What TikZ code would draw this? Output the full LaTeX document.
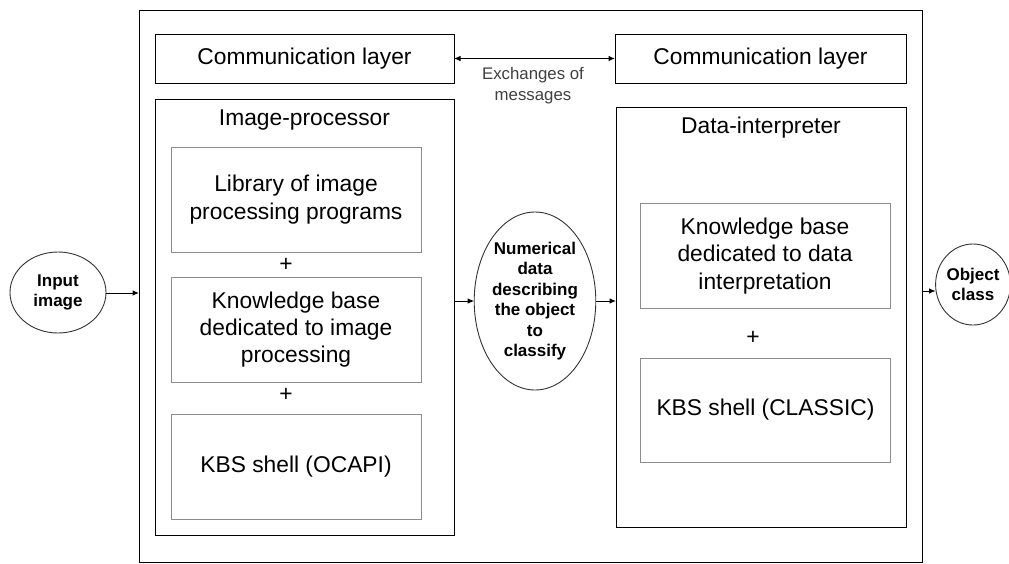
\documentclass[tikz,border=0pt]{standalone}
\usepackage{fontspec}
\setmainfont{Liberation Sans}
\usetikzlibrary{arrows.meta,shapes.geometric}
\begin{document}
\begin{tikzpicture}[x=1pt,y=-1pt,
  every node/.style={inner sep=0pt,outer sep=0pt},
  mainbox/.style={draw=black,line width=1pt,rectangle},
  innerbox/.style={draw=black!45,line width=1pt,rectangle,minimum width=250pt,minimum height=105pt,align=center,font=\fontsize{22.8}{27.3}\selectfont},
  bigtxt/.style={font=\fontsize{22.8}{26}\selectfont,align=center},
  elltxt/.style={draw=black!80,line width=0.9pt,ellipse,align=center,font=\fontsize{17}{20.5}\selectfont\bfseries},
  plus/.style={font=\fontsize{22.8}{26}\selectfont},
  arr/.style={line width=1pt,-{Latex[length=6.5pt,width=5.5pt]}},
  arrtwo/.style={line width=1pt,{Latex[length=6.5pt,width=5.5pt]}-{Latex[length=6.5pt,width=5.5pt]}}
]
\useasboundingbox (0,0) rectangle (1009,563);
% outer frame
\node[draw=black,line width=1pt,minimum width=783pt,minimum height=551.5pt] (outer) at (530.5,286.5) {};
% communication layers
\node[mainbox,minimum width=299pt,minimum height=49pt,bigtxt] (lc) at (304.5,58.5) {Communication layer};
\node[mainbox,minimum width=291pt,minimum height=49pt,bigtxt] (rc) at (760.5,58.5) {Communication layer};
\draw[arrtwo] (lc.east) -- (rc.west);
\node[font=\fontsize{16.8}{21}\selectfont,text=black!75,align=center] (ex) at (533,86) {Exchanges of\\messages};
% image processor
\node[mainbox,minimum width=299pt,minimum height=436pt] (ip) at (304.5,317) {};
\node[bigtxt] (iplab) at (304.5,120) {Image-processor};
\node[innerbox] (lib) at (296,199.5) {Library of image\\processing programs};
\node[plus] (p1) at (286,265) {+};
\node[innerbox] (kbi) at (296,329.5) {Knowledge base\\dedicated to image\\processing};
\node[plus] (p2) at (286,395) {+};
\node[innerbox] (ocapi) at (296,466.5) {KBS shell (OCAPI)};
% data interpreter
\node[mainbox,minimum width=290pt,minimum height=420pt] (di) at (761,317) {};
\node[bigtxt] (dilab) at (761,128) {Data-interpreter};
\node[innerbox] (kbd) at (765,256) {Knowledge base\\dedicated to data\\interpretation};
\node[plus] (p3) at (753,338) {+};
\node[innerbox,minimum height=104pt] (classic) at (765.5,410) {KBS shell (CLASSIC)};
% ellipses
\node[elltxt,minimum width=96pt,minimum height=81pt] (inp) at (58,292.5) {Input\\image};
\node[elltxt,minimum width=114pt,minimum height=178pt] (num) at (535,301) {Numerical\\data\\describing\\the object\\to\\classify};
\node[elltxt,minimum width=70pt,minimum height=81pt] (obj) at (973,284.5) {Object\\class};
% connectors
\draw[arr] (inp.east |- 0,293) -- (outer.west |- 0,293);
\draw[arr] (ip.east |- num) -- (num.west);
\draw[arr] (num.east) -- (di.west |- num);
\coordinate (oe) at (outer.east |- 0,291);
\draw[arr] (oe) -- (obj.west |- oe);
\end{tikzpicture}
\end{document}
